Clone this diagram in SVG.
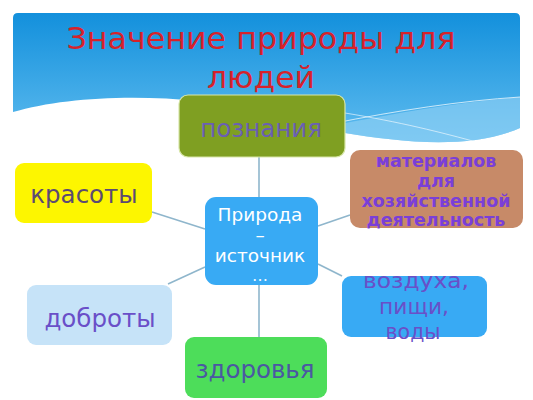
<svg xmlns="http://www.w3.org/2000/svg" width="533" height="400" viewBox="0 0 533 400">
<defs>
<linearGradient id="sky" x1="0" y1="0" x2="0" y2="1">
<stop offset="0" stop-color="#1390dc"/>
<stop offset="1" stop-color="#5fbcef"/>
</linearGradient>
<style>
text{font-family:"DejaVu Sans","Liberation Sans",sans-serif;text-anchor:middle}
.conn line{stroke:#8fb6cc;stroke-width:1.6}
</style>
</defs>
<rect width="533" height="400" fill="#ffffff"/>
<g id="header">
<path d="M13,112 C60,98 130,94 200,101 C260,108 300,125 345,133 C400,142 470,150 520,128 V18 Q520,13 515,13 H18 Q13,13 13,18 Z" fill="url(#sky)"/>
<path d="M330,126 C400,112 460,102 520,97 V128 C470,150 400,142 345,133 Z" fill="#9ad6f6" opacity="0.55"/>
<path d="M330,124 C400,110 460,101 520,97" fill="none" stroke="#ffffff" stroke-width="1" opacity="0.7"/>
<path d="M345,113 C400,122 440,132 480,143" fill="none" stroke="#ffffff" stroke-width="1" opacity="0.6"/>
<text x="261" y="49" font-size="30" fill="#d6222b" textLength="389" lengthAdjust="spacingAndGlyphs">Значение природы для</text>
<text x="261" y="88" font-size="30" fill="#d6222b" textLength="108" lengthAdjust="spacingAndGlyphs">людей</text>
</g>
<g id="connectors" class="conn">
<line x1="259" y1="157" x2="259" y2="197"/>
<line x1="152" y1="212" x2="205" y2="229"/>
<line x1="318" y1="226" x2="350" y2="215"/>
<line x1="168" y1="284" x2="205" y2="267"/>
<line x1="318" y1="264" x2="342" y2="276"/>
<line x1="259" y1="285" x2="259" y2="337"/>
</g>
<g id="poznaniya">
<rect x="179" y="95" width="166" height="62" rx="9" fill="#7f9f22" stroke="#d7e6a8" stroke-width="1.2"/>
<text x="261" y="137" font-size="24.5" fill="#6a5fb4">познания</text>
</g>
<g id="center">
<rect x="205" y="197" width="113" height="88" rx="11" fill="#38aaf4"/>
<text x="260" y="221" font-size="18.5" fill="#ffffff">Природа</text>
<text x="260" y="241" font-size="18.5" fill="#ffffff">–</text>
<text x="260" y="262" font-size="18.5" fill="#ffffff">источник</text>
<text x="260" y="281" font-size="16" fill="#f0f8ff">…</text>
</g>
<g id="krasoty">
<rect x="15" y="163" width="137" height="60" rx="9" fill="#fdf600"/>
<text x="84" y="203" font-size="24.5" fill="#5c4b72">красоты</text>
</g>
<g id="materialov">
<rect x="350" y="150" width="173" height="78" rx="10" fill="#c78a68"/>
<text x="436" y="167" font-size="17.5" font-weight="bold" fill="#7a3fd8">материалов</text>
<text x="436" y="187" font-size="17.5" font-weight="bold" fill="#7a3fd8">для</text>
<text x="436" y="207" font-size="17.5" font-weight="bold" fill="#7a3fd8">хозяйственной</text>
<text x="436" y="226" font-size="17.5" font-weight="bold" fill="#7a3fd8">деятельность</text>
</g>
<g id="dobroty">
<rect x="27" y="285" width="145" height="60" rx="9" fill="#c6e3f8"/>
<text x="100" y="327" font-size="24.5" fill="#6a4fc8">доброты</text>
</g>
<g id="vozduha">
<rect x="342" y="276" width="145" height="61" rx="9" fill="#38aaf4"/>
<text x="416" y="288" font-size="21.5" fill="#6a4fc8" textLength="106" lengthAdjust="spacingAndGlyphs">воздуха,</text>
<text x="414" y="313.5" font-size="21.5" fill="#6a4fc8" textLength="70" lengthAdjust="spacingAndGlyphs">пищи,</text>
<text x="413" y="339" font-size="21.5" fill="#6a4fc8" textLength="55" lengthAdjust="spacingAndGlyphs">воды</text>
</g>
<g id="zdorovya">
<rect x="185" y="337" width="142" height="61" rx="9" fill="#4ddd5a"/>
<text x="255" y="378" font-size="24.5" fill="#4a58a2">здоровья</text>
</g>
</svg>
